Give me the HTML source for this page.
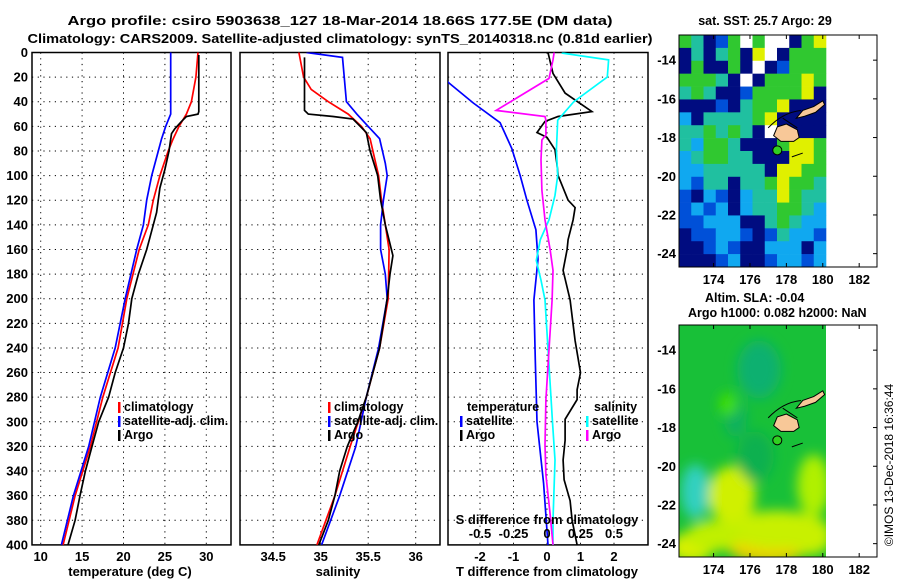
<!DOCTYPE html>
<html><head><meta charset="utf-8">
<style>
html,body{margin:0;padding:0;background:#fff;}
svg{display:block;font-family:"Liberation Sans",sans-serif;font-weight:bold;}
</style></head>
<body>
<svg id="fig" width="900" height="580" viewBox="0 0 900 580" xmlns="http://www.w3.org/2000/svg">
<text x="340" y="25" font-size="13" text-anchor="middle" textLength="545" lengthAdjust="spacingAndGlyphs">Argo profile: csiro 5903638_127 18-Mar-2014 18.66S 177.5E (DM data)</text>
<text x="340" y="43" font-size="13" text-anchor="middle" textLength="625" lengthAdjust="spacingAndGlyphs">Climatology: CARS2009. Satellite-adjusted climatology: synTS_20140318.nc (0.81d earlier)</text>
<g id="p1"></g>
<g id="p2"></g>
<g id="p3"></g>
<g id="m1"></g>
<g id="m2"></g>
<text x="0" y="0" font-size="12" font-weight="normal" text-anchor="middle" transform="translate(893,465) rotate(-90)">©IMOS 13-Dec-2018 16:36:44</text>
</svg>
<script>
// ---- profile data ----
const tClimDepth=[0,20,40,50,60,70,80,100,120,140,160,200,240,280,320,360,400];
const tClimVal=[29.0,28.75,28.2,27.6,26.7,26.0,25.4,24.4,23.6,23.0,21.9,20.4,19.35,17.5,16.0,14.15,12.7];
const tSatDepth=[0,50,55,60,70,80,100,120,140,160,200,240,280,320,360,400];
const tSatVal=[25.7,25.7,25.4,25.1,24.6,24.2,23.4,22.8,22.4,21.6,20.2,19.0,17.2,15.8,13.95,12.5];
const tArgoDepth=[2,48,50,52,56,62,66,80,95,110,130,140,150,160,180,200,220,240,260,280,300,320,340,360,380,400];
const tArgoVal=[29.1,29.1,29.0,27.6,27.0,26.2,25.8,25.5,25.0,24.4,24.0,23.6,23.2,22.8,21.8,21.0,20.6,20.0,19.0,18.2,17.0,16.2,15.4,14.75,14.15,13.3];
const sClimDepth=[0,20,30,40,50,60,70,80,100,120,140,160,200,240,280,320,360,400];
const sClimVal=[34.77,34.82,34.9,35.08,35.29,35.43,35.52,35.55,35.61,35.64,35.68,35.72,35.71,35.62,35.48,35.31,35.15,34.96];
const sSatDepth=[0,4,40,50,60,70,90,100,120,140,160,180,200,240,280,320,360,400];
const sSatVal=[34.85,35.23,35.27,35.38,35.5,35.62,35.68,35.7,35.66,35.63,35.63,35.68,35.7,35.61,35.48,35.37,35.2,35.01];
const sArgoDepth=[4,47,50,52,54,65,80,100,120,140,165,180,200,240,260,280,300,320,340,360,380,400];
const sArgoVal=[34.83,34.83,34.87,35.13,35.34,35.48,35.52,35.6,35.63,35.68,35.76,35.73,35.7,35.62,35.55,35.48,35.39,35.28,35.2,35.15,35.08,34.98];
// differences
const dTSatDepth=[0,10,24,41,57,78,100,120,144,168,201,250,300,350,400];
const dTSatVal=[-3.4,-3.2,-2.96,-2.2,-1.4,-1.05,-0.8,-0.6,-0.33,-0.27,-0.39,-0.35,-0.3,-0.1,0.03];
const dTArgoDepth=[0,17,33,48,52,56,65,69,79,91,100,120,126,136,152,160,177,201,234,260,274,282,298,315,331,347,364,380,400];
const dTArgoVal=[0.03,0.18,0.54,1.34,0.33,-0.06,-0.3,0,0.24,0.3,0.33,0.63,0.84,0.78,0.63,0.6,0.48,0.69,0.84,1.0,0.9,0.9,0.54,0.54,0.48,0.51,0.69,0.75,0.9];
const dSSatDepth=[0.4,6,20,40,55,79,100,116,136,152,169,185,201,299,331,380,400];
const dSSatVal=[0.11,0.46,0.45,0.2,0.08,0.07,0.08,0.06,0.015,-0.05,-0.08,-0.045,-0.015,0.04,0.06,0.045,0.045];
const dSArgoDepth=[0,6,21,47,52,55,67,71,87,112,136,160,177,201,282,319,343,375,400];
const dSArgoVal=[0.053,0.045,0.015,-0.38,-0.015,-0.008,-0.008,-0.038,-0.045,-0.038,-0.015,0.023,0.045,0.038,-0.008,-0.015,-0.008,0.023,0.045];
const depthTicks=[0,20,40,60,80,100,120,140,160,180,200,220,240,260,280,300,320,340,360,380,400];
const tTicks=[10,15,20,25,30];
const sTicks=[34.5,35,35.5,36];
const dTTicks=[-2,-1,0,1,2];
const dSTickLabels=["-0.5","-0.25","0","0.25","0.5"];
const dSTicks=[-0.5,-0.25,0,0.25,0.5];
// ---- map data: SST class grid (0=NaN,1 navy..6 yellow), 12 cols x 18 rows
const sstGrid=[
[5,4,1,2,5,0,5,0,0,1,5,6],
[1,4,1,4,5,1,6,0,1,5,5,5],
[1,5,1,1,5,1,0,1,2,5,5,5],
[5,5,5,4,1,0,1,5,5,5,6,5],
[4,5,4,1,1,2,5,5,5,5,6,1],
[1,1,1,2,1,4,5,5,6,1,1,1],
[3,1,4,4,4,4,5,6,1,1,1,1],
[4,4,5,4,5,4,1,0,1,1,1,1],
[4,3,5,5,4,1,1,1,5,6,6,5],
[3,4,5,5,4,4,1,1,1,6,6,5],
[3,3,4,4,4,4,4,1,6,6,5,5],
[3,2,4,4,1,4,4,5,6,5,5,4],
[2,1,3,2,1,3,4,4,6,5,4,4],
[2,3,2,3,1,3,4,4,5,5,4,3],
[2,2,3,3,3,1,1,4,5,4,3,3],
[1,2,2,3,3,2,1,2,4,3,3,2],
[1,1,2,3,2,1,1,3,3,3,1,3],
[1,1,1,2,3,1,1,2,3,3,2,3]];
const sstColors=["#ffffff","#000c80","#0050d8","#10a8f0","#20c0a0","#30c830","#e0f000"];
const mapLonTicks=[174,176,178,180,182];
const mapLatTicks=[-14,-16,-18,-20,-22,-24];
// SLA blobs: lon, lat, rx(deg), ry(deg), color
const slaLon=[176.5,173,175,177,179.5,175.2,177.5,176.3,174.8,172.8,174,179.3];
const slaLat=[-15,-21.3,-21.5,-24.2,-21,-17.5,-23.3,-19.5,-16.8,-24.2,-23.6,-23.6];
const slaRx=[1.2,0.8,1.3,2.2,0.9,0.6,2.8,1.0,0.5,1.2,1.5,1.2];
const slaRy=[1.5,1.4,1.5,0.8,1.6,1.0,1.0,1.3,0.6,0.8,0.8,1.0];
const slaCol=["#10b070","#30d0c0","#d0f000","#f0d000","#b0f000","#10b060","#c8f000","#10b050","#40e000","#d8f000","#c0f000","#c8f000"];
const argoLon=177.5, argoLat=-18.66;

const NS="http://www.w3.org/2000/svg";
function mk(parent,tag,attrs){const e=document.createElementNS(NS,tag);for(const k in attrs)e.setAttribute(k,attrs[k]);parent.appendChild(e);return e;}
const Y0=52.5, YK=1.231;
function yD(d){return Y0+d*YK;}
const xT=t=>40.7+(t-10)*8.28;
const xS=s=>320.7+(s-35)*95;
const xDT=v=>547+v*33.5;
const xDS=v=>547+v*134;

function panel(g,x0,x1,vt,vfun){
  const fr=mk(g,'rect',{x:x0,y:Y0,width:x1-x0,height:yD(400)-Y0,fill:'#fff',stroke:'#000','stroke-width':1.5});
  
  
  depthTicks.forEach(d=>{ if(d>0&&d<400){const l=mk(g,'line',{x1:x0,x2:x1,y1:yD(d),y2:yD(d),stroke:'#000','stroke-dasharray':'1.2 4.5'});
    }});
  vt.forEach(v=>{const x=vfun(v);const l=mk(g,'line',{x1:x,x2:x,y1:Y0,y2:yD(400),stroke:'#000','stroke-dasharray':'1.2 4.5'});
    });
}
function series(g,depths,vals,fx,col,name){
  const pts=depths.map((d,i)=>fx(vals[i]).toFixed(1)+','+yD(d).toFixed(1)).join(' ');
  const p=mk(g,'polyline',{points:pts,fill:'none',stroke:col,'stroke-width':1.7,'clip-path':'url(#clip'+name.split('-')[0]+')'});
  
  
}
function txt(g,x,y,s,size,anchor,name,col){
  const t=mk(g,'text',{x:x,y:y,'font-size':size,'text-anchor':anchor||'start',fill:col||'#000'});
  t.textContent=s;
  
  
  return t;
}
function legend(g,x,y,items){
  items.forEach((it,i)=>{
    const r=mk(g,'rect',{x:x,y:y+i*14-9,width:2.5,height:11,fill:it[1]});
    
    
    txt(g,x+6,y+i*14,it[0],12.5,'start','legend-entry');
  });
}
const svg=document.getElementById('fig');
const defs=mk(svg,'defs',{});
[['c1',32,231],['c2',240,440],['c3',448,648]].forEach(c=>{const cp=mk(defs,'clipPath',{id:'clip'+c[0]});mk(cp,'rect',{x:c[1],y:Y0,width:c[2]-c[1],height:yD(400)-Y0});});
const blur=mk(defs,'filter',{id:'bl',x:'-50%',y:'-50%',width:'200%',height:'200%'});mk(blur,'feGaussianBlur',{stdDeviation:6});

// Panel 1
const p1=document.getElementById('p1');
panel(p1,32,231,tTicks,xT);
series(p1,tClimDepth,tClimVal,xT,'#ff0000','c1-temp-climatology-line');
series(p1,tSatDepth,tSatVal,xT,'#0000ff','c1-temp-satellite-line');
series(p1,tArgoDepth,tArgoVal,xT,'#000000','c1-temp-argo-line');
depthTicks.forEach(d=>txt(p1,28,yD(d)+4.5,String(d),13,'end','depth-tick-label'));
tTicks.forEach(t=>txt(p1,xT(t),561,String(t),13,'middle','temp-tick-label'));
txt(p1,130,576,'temperature (deg C)',13,'middle','x-axis-title-temperature');
legend(p1,118,411,[['climatology','#ff0000'],['satellite-adj. clim.','#0000ff'],['Argo','#000']]);

// Panel 2
const p2=document.getElementById('p2');
panel(p2,240,440,sTicks,xS);
series(p2,sClimDepth,sClimVal,xS,'#ff0000','c2-sal-climatology-line');
series(p2,sSatDepth,sSatVal,xS,'#0000ff','c2-sal-satellite-line');
series(p2,sArgoDepth,sArgoVal,xS,'#000000','c2-sal-argo-line');
sTicks.forEach(s=>txt(p2,xS(s),561,String(s),13,'middle','salinity-tick-label'));
txt(p2,338,576,'salinity',13,'middle','x-axis-title-salinity');
legend(p2,328,411,[['climatology','#ff0000'],['satellite-adj. clim.','#0000ff'],['Argo','#000']]);

// Panel 3
const p3=document.getElementById('p3');
panel(p3,448,648,dTTicks,xDT);
series(p3,dTSatDepth,dTSatVal,xDT,'#0000ff','c3-tdiff-satellite-line');
series(p3,dTArgoDepth,dTArgoVal,xDT,'#000000','c3-tdiff-argo-line');
series(p3,dSSatDepth,dSSatVal,xDS,'#00ffff','c3-sdiff-satellite-line');
series(p3,dSArgoDepth,dSArgoVal,xDS,'#ff00ff','c3-sdiff-argo-line');
dTTicks.forEach(t=>txt(p3,xDT(t),561,String(t),13,'middle','tdiff-tick-label'));
txt(p3,547,576,'T difference from climatology',13,'middle','x-axis-title-tdiff');
txt(p3,547,524,'S difference from climatology',13,'middle','s-diff-axis-title');
dSTicks.forEach((s,i)=>txt(p3,xDS(s),538,dSTickLabels[i],13,'middle','sdiff-tick-label'));
txt(p3,467,411,'temperature',12.5,'start','legend-title-temperature');
legend(p3,460,425,[['satellite','#0000ff'],['Argo','#000']]);
txt(p3,594,411,'salinity',12.5,'start','legend-title-salinity');
legend(p3,586,425,[['satellite','#00ffff'],['Argo','#ff00ff']]);

// Maps
const LON0=172.1, LONK=18.2, LATK=19.35;
function mapFrame(top){
  const mx=lon=>679+(lon-LON0)*LONK;
  const my=lat=>top+(-12.7-lat)*LATK;
  return {mx,my};
}
function land(g,mx,my){
  const vl=mk(g,'path',{d:`M${mx(178.55)},${my(-17.0)} L${mx(178.9)},${my(-16.6)} L${mx(179.5)},${my(-16.4)} L${mx(180.0)},${my(-16.1)} L${mx(180.1)},${my(-16.3)} L${mx(179.6)},${my(-16.7)} L${mx(179.0)},${my(-16.9)} Z`,fill:'#f8c898',stroke:'#000','stroke-width':1});
  
  const vt=mk(g,'path',{d:`M${mx(177.3)},${my(-17.9)} L${mx(177.5)},${my(-17.45)} L${mx(178.0)},${my(-17.3)} L${mx(178.6)},${my(-17.6)} L${mx(178.7)},${my(-18.0)} L${mx(178.4)},${my(-18.2)} L${mx(177.7)},${my(-18.2)} Z`,fill:'#f8c898',stroke:'#000','stroke-width':1});
  
  const co=mk(g,'path',{d:`M${mx(177.0)},${my(-17.5)} Q${mx(177.8)},${my(-16.7)} ${mx(178.8)},${my(-16.6)} M${mx(177.8)},${my(-17.0)} L${mx(178.6)},${my(-17.5)} M${mx(178.9)},${my(-18.8)} L${mx(178.3)},${my(-19.0)}`,fill:'none',stroke:'#000','stroke-width':1});
  
  const ad=mk(g,'circle',{cx:mx(argoLon),cy:my(argoLat),r:4.5,fill:'#30d020',stroke:'#000','stroke-width':1});
  
}
function axes(g,mx,my,top){
  const fr=mk(g,'rect',{x:679,y:top,width:198,height:232,fill:'none',stroke:'#000','stroke-width':1});
  
  mapLonTicks.forEach(l=>{mk(g,'line',{x1:mx(l),x2:mx(l),y1:top,y2:top+4,stroke:'#000'});mk(g,'line',{x1:mx(l),x2:mx(l),y1:top+232,y2:top+228,stroke:'#000'});
    txt(g,mx(l),top+249,String(l),13,'middle','lon-tick-label');});
  mapLatTicks.forEach(l=>{mk(g,'line',{x1:877,x2:873,y1:my(l),y2:my(l),stroke:'#000'});
    txt(g,676,my(l)+4.5,String(l),13,'end','lat-tick-label');});
}
// Map 1
const m1=document.getElementById('m1');
{ const top=35; const {mx,my}=mapFrame(top);
  const cw=(826-679)/12, ch=232/18;
  sstGrid.forEach((row,r)=>row.forEach((v,c)=>{
    const cell=mk(m1,'rect',{x:(679+c*cw).toFixed(2),y:(top+r*ch).toFixed(2),width:(cw+0.3).toFixed(2),height:(ch+0.3).toFixed(2),fill:sstColors[v]});
    
    
  }));
  land(m1,mx,my); axes(m1,mx,my,top);
  txt(m1,765,25,'sat. SST: 25.7 Argo: 29',12.5,'middle','sst-map-title');
}
// Map 2
const m2=document.getElementById('m2');
{ const top=325; const {mx,my}=mapFrame(top);
  const cp=mk(defs,'clipPath',{id:'clipm2'});mk(cp,'rect',{x:679,y:top,width:147,height:232});
  const gg=mk(m2,'g',{'clip-path':'url(#clipm2)'});
  const base=mk(gg,'rect',{x:679,y:top,width:147,height:232,fill:'#18c038'});
  
  const bg=mk(gg,'g',{filter:'url(#bl)'});
  slaLon.forEach((lon,i)=>{
    const e=mk(bg,'ellipse',{cx:mx(lon),cy:my(slaLat[i]),rx:slaRx[i]*LONK,ry:slaRy[i]*LATK,fill:slaCol[i]});
    
    
  });
  land(m2,mx,my); axes(m2,mx,my,top);
  txt(m2,705,302,'Altim. SLA: -0.04',12.5,'start','sla-map-title');
  txt(m2,688,317,'Argo h1000: 0.082 h2000: NaN',12.5,'start','sla-map-subtitle');
}
</script>
</body></html>
